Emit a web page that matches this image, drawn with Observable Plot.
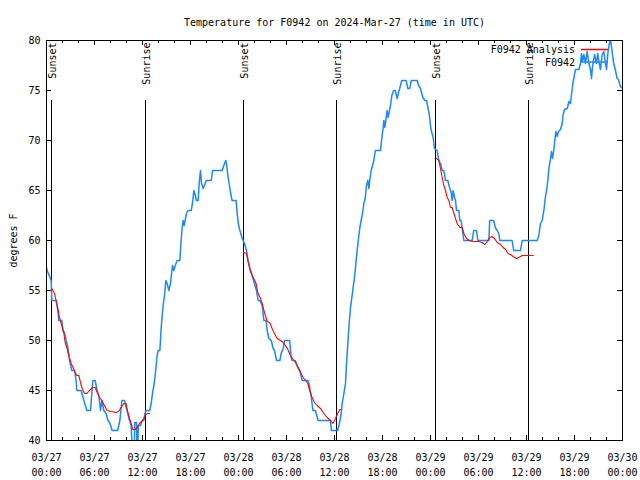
<!DOCTYPE html>
<html><head><meta charset="utf-8">
<script src="https://cdn.jsdelivr.net/npm/d3@7"></script>
<script src="https://cdn.jsdelivr.net/npm/@observablehq/plot@0.6"></script>
<style>
body{margin:0;background:#fff}
#wrap{position:relative;width:640px;height:480px;background:#fff}
</style></head><body><div id="wrap"></div>
<script>
// ---- data ----
const titleText = "Temperature for F0942 on 2024-Mar-27 (time in UTC)";
const yLabel = "degrees F";
const startISO = "2024-03-27T00:00Z";
const endISO = "2024-03-30T00:00Z";
const yTicks = [40, 45, 50, 55, 60, 65, 70, 75, 80];
const legendLabels = ["F0942 Analysis", "F0942"];
const sunLabels = ["Sunset", "Sunrise", "Sunset", "Sunrise", "Sunset", "Sunrise"];
const sunTimes = ["2024-03-27T00:41Z", "2024-03-27T12:24Z", "2024-03-28T00:38Z", "2024-03-28T12:16Z", "2024-03-29T00:40Z", "2024-03-29T12:17Z"];

// observed F0942: [hours since start, temperature F]
const observed = [
[0,57.3],[0.08,57],[0.58,56],[0.67,54],[1.2,54],[1.42,53],[1.54,52],[1.92,52],[2.04,51],[2.25,50.8],[2.46,50],[2.67,49.3],[2.88,48],[3.17,47],[3.5,47],[3.7,46],[3.79,45],[4.33,45],[4.67,44],[5.04,43],[5.5,43],[5.79,46],[6.08,46],[6.33,45],[6.54,44.5],[6.75,43],[6.92,44],[7.17,43],[7.46,42.7],[7.67,42],[7.9,41.8],[8.2,41],[8.9,41],[9.17,42],[9.42,44],[9.75,44],[9.96,43.3],[10.17,42.7],[10.38,42],[10.58,41.5],[10.7,39.5],[10.98,39.5],[11.03,41.8],[11.25,41.8],[11.3,39.5],[11.42,39.5],[11.47,41.5],[11.75,41.5],
[11.96,42],[12.17,42],[12.3,42.7],[12.46,43],[12.9,43],[13.08,43.7],[13.25,44.7],[13.42,45.5],[13.58,46.5],[13.71,47.5],[13.83,48.5],[13.96,49],[14.17,49],[14.33,51.2],[14.46,52.5],[14.58,53.5],[14.75,54.5],[14.92,56],[15.08,55.7],[15.29,55],[15.5,55.7],[15.6,56.5],[15.75,57.5],[15.9,57],[16.1,57.5],[16.33,58],[16.67,58],[16.83,60],[16.96,61.3],[17.08,62],[17.2,61.5],[17.33,62],[17.5,62.7],[17.67,63],[18.1,63],[18.29,64],[18.42,65],[18.54,64.7],[18.75,64],[18.96,64],[19.08,65.7],[19.25,67],[19.38,65.7],[19.58,65.2],[19.75,65.5],[19.96,66],[20.6,66],[20.75,67],[21.96,67],[22.17,67.5],[22.4,68],[22.5,67.7],[22.67,66.5],[22.83,65.7],[23.0,64.8],[23.2,64],[23.7,64],[23.83,62.7],[23.96,61.8],[24.1,61.2],[24.25,60.8],[24.46,60.2],[24.75,59.7],[25.0,59],
[25.2,58],[25.4,57.3],[25.6,56.8],[25.8,56.2],[26.0,55.7],[26.25,55],[26.46,54],[26.67,54],[26.96,53.5],[27.17,52],[27.46,52],[27.58,51],[27.8,50.2],[28.1,50],[28.33,49.2],[28.5,49],[28.75,48],[29.17,48],[29.33,48.7],[29.58,49.2],[29.75,50],[30.4,50],[30.58,48.3],[30.7,48],[31.1,48],[31.4,47.3],[31.67,47],[31.96,46],[32.7,46],[32.9,45.3],[33.1,44.3],[33.3,43],[33.6,43],[33.96,42],[35.5,42],[35.6,41],[36.4,41],[36.6,41.7],[36.8,42.5],[36.96,43.7],[37.17,44.7],[37.375,45.7],[37.5,47.7],[37.67,49.7],[37.83,51.7],[38.0,53.3],
[38.17,54.3],[38.33,55.3],[38.5,56.3],[38.67,57.7],[38.83,59],[39.0,60.2],[39.17,61.3],[39.33,62],[39.5,62.7],[39.67,63.7],[39.83,64.2],[40.0,65.5],[40.17,66],[40.3,65.2],[40.4,66],[40.58,67],[40.75,67.5],[40.92,68],[41.1,69],[41.75,69],[41.875,70],[42.04,71],[42.17,72],[42.3,71.3],[42.46,72.3],[42.58,73],[42.7,72.3],[42.875,73],[43.0,73.5],[43.17,74.5],[43.4,75],[43.6,75],[43.83,74.2],[44.0,74.8],[44.25,75.5],[44.4,76],[44.96,76],[45.17,75.2],[45.4,75.2],[45.6,76],[46.33,76],[46.5,75.5],[46.75,75.2],[47.04,74.3],[47.3,74],[47.5,74],[47.67,73.3],[47.83,72.7],[48.0,71.5],[48.1,71],[48.33,70.3],[48.5,69.2],[48.83,69],[49.04,68],[49.25,67.7],[49.46,67],[49.67,67],[49.875,66],[50.17,66],
[50.375,65.3],[50.58,64.8],[50.7,64],[50.83,65],[51.0,64.3],[51.125,64],[51.25,63],[51.54,63],[51.67,62],[51.83,62],[51.96,61.2],[52.17,60],[53.2,60],[53.4,61],[53.75,61],[53.92,60],[55.3,60],[55.4,62],[55.9,62],[56.1,61.3],[56.33,61],[56.54,60.7],[56.67,60],[58.2,60],[58.4,59],[59.25,59],[59.46,60],[61.33,60],[61.54,60.5],[61.75,61.7],[61.96,62],[62.17,63],[62.375,64.4],[62.5,65],[62.67,66],[62.8,67.2],[63.0,68.2],[63.125,68.9],[63.25,68.2],[63.4,69],[63.54,70],[63.67,70.9],[63.83,70.4],[64.0,70.9],[64.25,71.1],[64.46,71.7],[64.58,72.6],[64.75,73.1],[65.1,73.2],[65.3,73.9],[65.5,73.7],[65.625,74.6],[65.8,75.7],[66.0,76.6],[66.125,77.1],[66.54,77.1],[66.75,77.7],[66.875,78.7],[67.0,77.9],[67.17,78.6],[67.375,77.7],[67.58,78.9],[67.8,77.7],[68.0,77.1],[68.125,76.2],[68.25,77.4],[68.5,78.6],[68.75,77.7],[68.9,78.7],[69.1,77.7],[69.25,77.1],[69.46,78.6],[69.67,78.9],[69.875,77.7],[70.0,77.1],[70.17,78.7],[70.33,79.6],[70.5,80.1],[70.7,78.9],[70.9,77.7],[71.1,77.1],[71.33,76.2],[71.5,76.1],[71.75,75.4],[72,75.2]
];

// analysis, one array per night: [hours since start, temperature F]
const analysisNight1 = [
[0.67,55.2],[1.0,54.7],[1.2,54],[1.42,53.2],[1.625,52.3],[1.92,51.5],[2.17,50.7],[2.33,49.8],[2.58,49.2],[2.79,48.5],[3.08,47.7],[3.375,47.2],[3.58,46.8],[3.79,46.5],[4.04,46.5],[4.25,45.8],[4.46,45.2],[4.75,44.7],[5.04,44.7],[5.375,45],[5.79,45.3],[6.08,45.3],[6.33,44.8],[6.625,44.3],[6.92,44],[7.25,43.5],[7.58,43],[8.08,42.9],[8.7,42.8],[9.0,42.9],[9.33,43.3],[9.67,43.7],[9.96,43.7],[10.17,42.8],[10.375,42.2],[10.58,41.7],[10.79,41.1],[11.08,41.1],[11.33,41.3],[11.625,41.7],[11.9,41.9],[12.17,42.2],[12.375,42.6],[12.67,42.7],[12.9,42.7]
];
const analysisNight2 = [
[24.67,58.8],[25.0,58.7],[25.17,58],[25.4,57.2],[25.6,56.7],[25.9,56.2],[26.2,55.7],[26.4,54.8],[26.75,54.2],[26.96,53.7],[27.25,52.8],[27.58,51.9],[27.9,51.8],[28.2,51.2],[28.5,50.7],[28.83,50.2],[29.25,50],[29.58,49.8],[29.875,49.5],[30.17,49.1],[30.5,48.5],[30.83,48.1],[31.125,47.8],[31.4,47.4],[31.75,46.8],[32.08,46.3],[32.375,46],[32.67,45.7],[32.9,45],[33.2,44.3],[33.5,43.8],[33.83,43.5],[34.25,43.2],[34.67,42.7],[35.08,42.3],[35.5,42],[35.8,41.7],[36.125,42.2],[36.4,42.7],[36.67,43.1],[36.83,43.1]
];
const analysisNight3 = [
[48.75,68.2],[49.04,68],[49.25,67.2],[49.46,66.3],[49.67,65.5],[49.875,65],[50.08,64.3],[50.3,64],[50.5,63.3],[50.7,63.3],[50.9,62.8],[51.125,62.2],[51.33,61.7],[51.67,61.3],[51.96,61.3],[52.17,60.7],[52.5,60.2],[52.8,60],[53.4,59.9],[54.0,59.9],[54.46,59.8],[54.8,59.6],[55.08,59.9],[55.4,60.3],[55.7,60.4],[56.0,60.2],[56.33,59.8],[56.75,59.6],[57.08,59.3],[57.375,59.1],[57.7,58.7],[58.0,58.6],[58.33,58.4],[58.75,58.2],[59.04,58.3],[59.46,58.5],[60.08,58.5],[60.83,58.5]
];

// ---- drawing ----
const FONT = "'DejaVu Sans Mono', 'Liberation Mono', monospace";
const BLUE = "#1a88ff", RED = "#ff0000";
const W = 640, H = 480, mL = 46, mR = 18, mT = 40, mB = 40;
const innerW = W - mL - mR, innerH = H - mT - mB;
const t0 = new Date(startISO), t1 = new Date(endISO);
const toDate = h => new Date(+t0 + h * 3600e3);
const majorTicks = d3.utcHour.every(6).range(t0, new Date(+t1 + 1));
const minorTicks = d3.utcHour.every(2).range(t0, new Date(+t1 + 1)).filter(d => d.getUTCHours() % 6 !== 0);
const sun = sunLabels.map((label, i) => ({label, time: new Date(sunTimes[i])}));
const fmt = d3.utcFormat("%m/%d\n%H:%M");
const crisp = {shapeRendering: "crispEdges"};

const analysisLine = arr => Plot.line(arr, {x: d => toDate(d[0]), y: d => d[1], stroke: RED, strokeWidth: 1.1});

const chart = Plot.plot({
  width: W, height: H,
  marginLeft: mL, marginRight: mR, marginTop: mT, marginBottom: mB,
  style: {fontFamily: FONT, fontSize: "10px", color: "black", background: "white", overflow: "visible"},
  x: {type: "utc", domain: [t0, t1]},
  y: {domain: [40, 80]},
  marks: [
    Plot.ruleX(sun, {x: "time", insetTop: 60, stroke: "black", strokeWidth: 1, ...crisp}),
    Plot.text(sun, {x: "time", text: "label", frameAnchor: "top", rotate: -90, textAnchor: "end", lineAnchor: "middle", dy: 2, dx: 1, fontSize: 10}),
    Plot.line(observed, {x: d => toDate(d[0]), y: d => d[1], stroke: BLUE, strokeWidth: 1.5, clip: true}),
    analysisLine(analysisNight1),
    analysisLine(analysisNight2),
    analysisLine(analysisNight3),
    // inward ticks
    Plot.ruleX(majorTicks, {x: d => d, insetTop: innerH - 5, stroke: "black", ...crisp}),
    Plot.ruleX(majorTicks, {x: d => d, insetBottom: innerH - 5, stroke: "black", ...crisp}),
    Plot.ruleX(minorTicks, {x: d => d, insetTop: innerH - 3, stroke: "black", ...crisp}),
    Plot.ruleX(minorTicks, {x: d => d, insetBottom: innerH - 3, stroke: "black", ...crisp}),
    Plot.ruleY(yTicks, {y: d => d, insetRight: innerW - 5, stroke: "black", ...crisp}),
    Plot.ruleY(yTicks, {y: d => d, insetLeft: innerW - 5, stroke: "black", ...crisp}),
    Plot.frame({stroke: "black", strokeWidth: 1, ...crisp}),
    Plot.axisX(majorTicks, {tickSize: 0, tickPadding: 10, tickFormat: fmt, lineHeight: 1.5, label: null, fontSize: 10}),
    Plot.axisY(yTicks, {tickSize: 0, tickPadding: 6, label: yLabel, labelAnchor: "center", labelOffset: 37, labelArrow: "none", fontSize: 10}),
    Plot.text([titleText], {frameAnchor: "top", dy: -22, fontSize: 10})
  ]
});
const wrap = document.getElementById("wrap");
wrap.appendChild(chart);

// legend (key) overlay, top right inside the frame
const legendColors = [RED, BLUE];
const leg = d3.select(wrap).append("svg")
  .attr("width", W).attr("height", H)
  .style("position", "absolute").style("left", "0px").style("top", "0px")
  .style("pointer-events", "none");
legendLabels.forEach((lab, i) => {
  const y = 49.5 + i * 12.5;
  leg.append("text").attr("x", 575).attr("y", y).attr("dy", "0.35em")
    .attr("text-anchor", "end").attr("font-family", FONT).attr("font-size", 10)
    .attr("fill", "black").text(lab);
  leg.append("line").attr("x1", 581).attr("x2", 608).attr("y1", y).attr("y2", y)
    .attr("stroke", legendColors[i]).attr("stroke-width", 1.5);
});
</script></body></html>
